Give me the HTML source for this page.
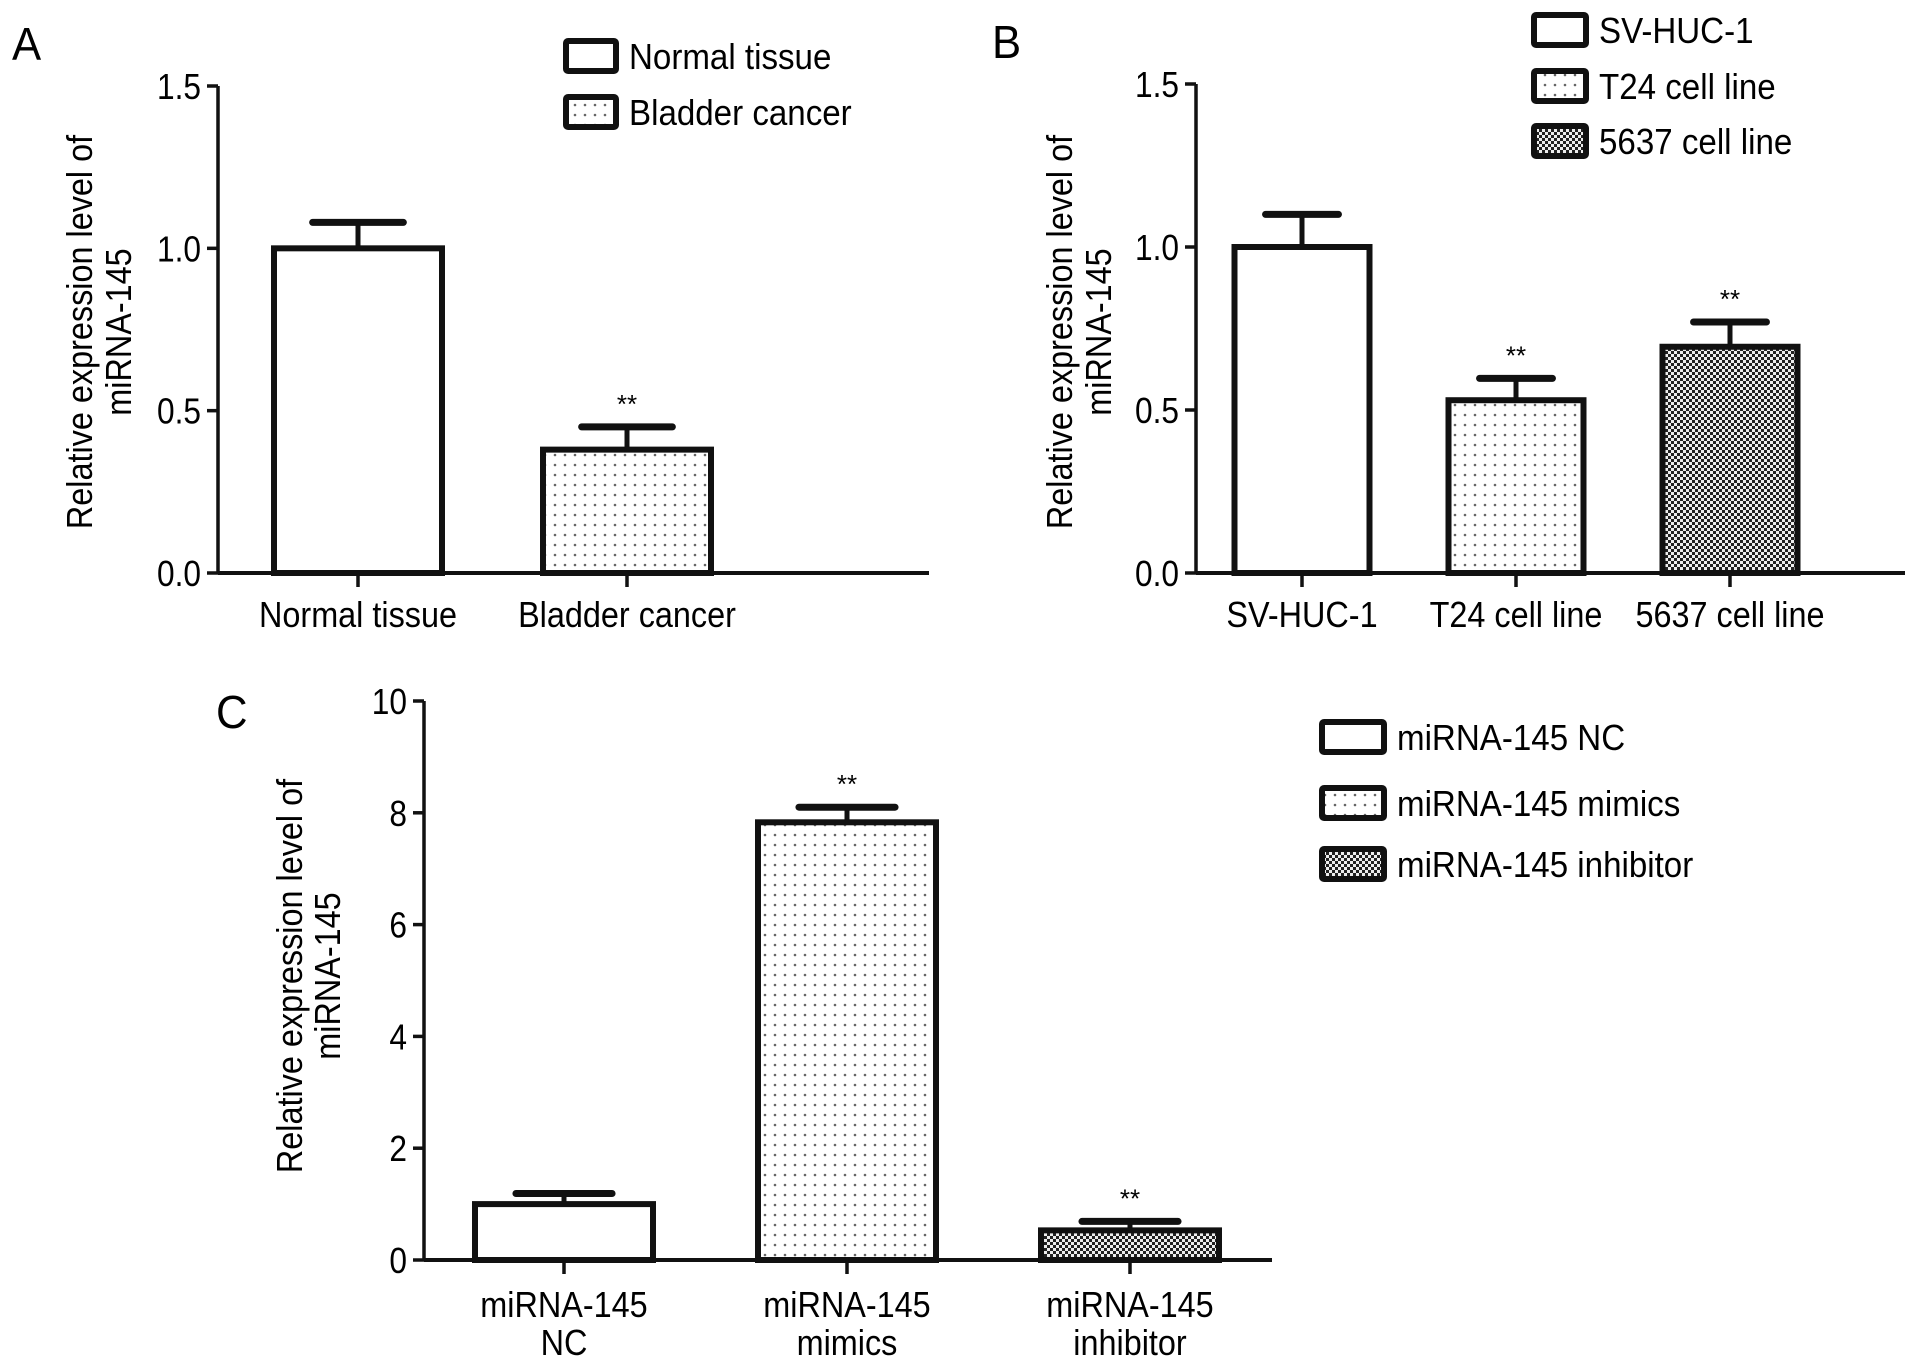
<!DOCTYPE html>
<html><head><meta charset="utf-8"><style>
html,body{margin:0;padding:0;background:#fff;}
svg{display:block;font-family:"Liberation Sans",Arial,sans-serif;}
</style></head><body>
<svg id="fig" width="1913" height="1367" viewBox="0 0 1913 1367" xmlns="http://www.w3.org/2000/svg">
<defs>
<pattern id="dots" width="10" height="10" patternUnits="userSpaceOnUse"><rect width="10" height="10" fill="#fff"/><circle cx="5" cy="5" r="1.3" fill="#666"/></pattern>
<pattern id="check" width="6" height="6" patternUnits="userSpaceOnUse"><rect width="6" height="6" fill="#eee"/><rect width="3" height="3" fill="#222"/><rect x="3" y="3" width="3" height="3" fill="#222"/></pattern>
</defs>
</svg>
<script>
// Panel A data
const catsA = ["Normal tissue","Bladder cancer"];
const valsA = [1.0, 0.38];
const errA = [1.08, 0.45];
const sigA = ["", "**"];
const ticksA = [0, 0.5, 1.0, 1.5];
// Panel B data
const catsB = ["SV-HUC-1","T24 cell line","5637 cell line"];
const valsB = [1.0, 0.53, 0.694];
const errB = [1.10, 0.597, 0.77];
const sigB = ["", "**", "**"];
const ticksB = [0, 0.5, 1.0, 1.5];
// Panel C data
const catsC = [["miRNA-145","NC"],["miRNA-145","mimics"],["miRNA-145","inhibitor"]];
const legC = ["miRNA-145 NC","miRNA-145 mimics","miRNA-145 inhibitor"];
const valsC = [1.0, 7.83, 0.53];
const errC = [1.19, 8.1, 0.69];
const sigC = ["", "**", "**"];
const ticksC = [0, 2, 4, 6, 8, 10];

const NS = "http://www.w3.org/2000/svg";
const svg = document.getElementById('fig');
function mk(tag, attrs, parent, text){
  const e = document.createElementNS(NS, tag);
  for (const k in attrs) e.setAttribute(k, attrs[k]);
  if (text !== undefined) e.textContent = text;
  (parent||svg).appendChild(e);
  return e;
}
function txt(x, y, size, sx, anchor, parent, t){
  return mk('text',{transform:`translate(${x} ${y}) scale(${sx} 1)`,x:0,y:0,'font-size':size,'text-anchor':anchor},parent,t);
}
const fills = ["#fff","url(#dots)","url(#check)"];

function panel(o){
  const g = mk('g',{});
  
  
  const y = v => o.y0 - v * (o.y0 - o.yTop) / o.max;
  const L = txt(o.letter[0], o.letter[1], 46, 0.95, 'start', g, o.letterText);
  
  
  const ya = mk('line',{x1:o.ax,x2:o.ax,y1:y(o.max),y2:o.y0,stroke:'#111','stroke-width':3.5},g);
  
  
  o.ticks.forEach(t=>{
    mk('line',{x1:o.ax-11,x2:o.ax,y1:y(t),y2:y(t),stroke:'#111','stroke-width':3.5},g);
    const tl = txt(o.ax-17, y(t)+13, 36, 0.88, 'end', g, o.fmt(t));
    
    
  });
  const xa = mk('line',{x1:o.ax,x2:o.axEnd,y1:o.y0,y2:o.y0,stroke:'#111','stroke-width':4},g);
  
  
  const yt = mk('g',{},g);
  
  
  mk('text',{transform:`translate(${o.yt[0]} ${o.yt[2]}) rotate(-90) scale(0.9 1)`,x:0,y:0,'font-size':36,'text-anchor':'middle'},yt,'Relative expression level of');
  mk('text',{transform:`translate(${o.yt[1]} ${o.yt[2]}) rotate(-90) scale(0.9 1)`,x:0,y:0,'font-size':36,'text-anchor':'middle'},yt,'miRNA-145');
  o.vals.forEach((v,i)=>{
    const cx = o.ax + o.first + i*o.step;
    const w = o.bw;
    const eb = mk('g',{},g);
    
    
    mk('line',{x1:cx,x2:cx,y1:y(o.err[i]),y2:y(v),stroke:'#111','stroke-width':5},eb);
    mk('line',{x1:cx-w*0.27,x2:cx+w*0.27,y1:y(o.err[i]),y2:y(o.err[i]),stroke:'#111','stroke-width':7,'stroke-linecap':'round'},eb);
    const b = mk('rect',{x:cx-w/2,y:y(v),width:w,height:o.y0-y(v),fill:fills[i],stroke:'#111','stroke-width':6},g);
    
    
    if (o.sig[i]) {
      const s = mk('text',{x:cx,y:y(o.err[i])-14,'font-size':26,'text-anchor':'middle'},g,o.sig[i]);
      
      
    }
    mk('line',{x1:cx,x2:cx,y1:o.y0,y2:o.y0+14,stroke:'#111','stroke-width':3.5},g);
    const lines = Array.isArray(o.cats[i]) ? o.cats[i] : [o.cats[i]];
    lines.forEach((t,k)=>{
      const xl = txt(cx, o.labY+k*o.lineGap, 36, 0.9, 'middle', g, t);
      
      
    });
  });
  o.leg.forEach((t,i)=>{
    const ly = o.legY[i];
    const lg = mk('g',{},g);
    
    
    mk('rect',{x:o.legX,y:ly-15,width:o.legW,height:30,fill:fills[i],stroke:'#111','stroke-width':6,rx:2},lg);
    txt(o.legX+o.legW+13, ly+13, 36, 0.92, 'start', lg, t);
  });
}

panel({name:'panel-a',letterText:'A',letter:[12,60],ax:218,y0:573,yTop:86,max:1.5,axEnd:929,
  ticks:ticksA,fmt:t=>t.toFixed(1),yt:[92,131,332],vals:valsA,err:errA,sig:sigA,cats:catsA,
  first:140,step:269,bw:168,labY:627,lineGap:38,leg:catsA,legX:566,legW:50,legY:[56,112]});
panel({name:'panel-b',letterText:'B',letter:[992,58],ax:1196,y0:573,yTop:84,max:1.5,axEnd:1905,
  ticks:ticksB,fmt:t=>t.toFixed(1),yt:[1072,1111,332],vals:valsB,err:errB,sig:sigB,cats:catsB,
  first:106,step:214,bw:135,labY:627,lineGap:38,leg:catsB,legX:1534,legW:52,legY:[30,86,141]});
panel({name:'panel-c',letterText:'C',letter:[216,728],ax:424,y0:1260,yTop:701,max:10,axEnd:1272,
  ticks:ticksC,fmt:t=>String(t),yt:[302,340,976],vals:valsC,err:errC,sig:sigC,cats:catsC,
  first:140,step:283,bw:178,labY:1317,lineGap:38,leg:legC,legX:1322,legW:62,legY:[737,803,864]});
</script>
</body></html>
